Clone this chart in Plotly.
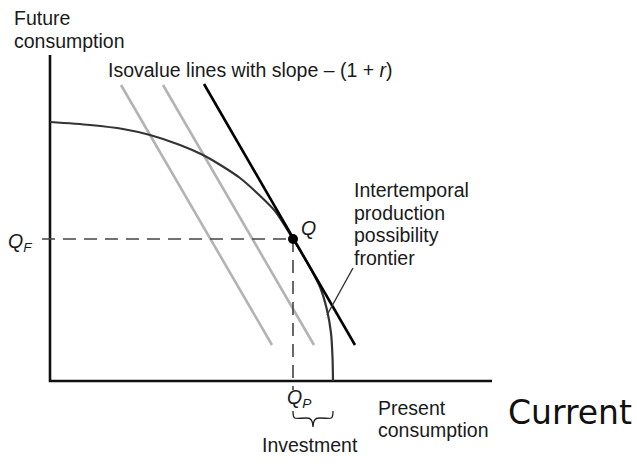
import plotly.graph_objects as go

# ---- data (chart units, origin at the axes corner) ----
frontier_x = [0, 40, 73, 100, 130, 153, 172, 190, 206, 225, 243, 258, 270, 277, 281, 282.5, 283]
frontier_y = [259, 256, 252, 246, 236, 226, 215, 203, 189, 170, 142, 117, 94, 71, 48, 24, 0]

q_point = (243, 142)          # optimum Q = (Q_P, Q_F)
tangent_x = [154, 305]        # black isovalue line through Q
tangent_y = [297, 36]
gray_lines_x = [[71, 222], [113, 264]]
gray_lines_y = [[296, 36], [296, 36]]
pointer_x = [303, 277]
pointer_y = [113, 66]

x_axis_end = 442
y_axis_end = 326

frontier_label = ["Intertemporal", "production", "possibility", "frontier"]
y_title = ["Future", "consumption"]
x_title = ["Present", "consumption"]

FONT = "Liberation Sans, Arial, sans-serif"
FS = 19.5
TXT = "#1a1a1a"

fig = go.Figure()

# axes
fig.add_trace(go.Scatter(x=[0, 0, x_axis_end], y=[y_axis_end, 0, 0], mode="lines",
                         line=dict(color="#111", width=2.6), hoverinfo="skip"))

# gray isovalue lines
for gx, gy in zip(gray_lines_x, gray_lines_y):
    fig.add_trace(go.Scatter(x=gx, y=gy, mode="lines",
                             line=dict(color="#b3b3b3", width=2.6), hoverinfo="skip"))

# frontier
fig.add_trace(go.Scatter(x=frontier_x, y=frontier_y, mode="lines",
                         line=dict(color="#333", width=2.2, shape="spline", smoothing=0.8),
                         hoverinfo="skip"))

# tangent isovalue line
fig.add_trace(go.Scatter(x=tangent_x, y=tangent_y, mode="lines",
                         line=dict(color="#000", width=2.6), hoverinfo="skip"))

# dashed guides
qx, qy = q_point
fig.add_trace(go.Scatter(x=[-8, qx], y=[qy, qy], mode="lines",
                         line=dict(color="#444", width=1.6, dash="13px,8px"), hoverinfo="skip"))
fig.add_trace(go.Scatter(x=[qx, qx], y=[qy, -9], mode="lines",
                         line=dict(color="#444", width=1.6, dash="13px,8px"), hoverinfo="skip"))

# pointer
fig.add_trace(go.Scatter(x=pointer_x, y=pointer_y, mode="lines",
                         line=dict(color="#333", width=1.4), hoverinfo="skip"))

# Q point
fig.add_trace(go.Scatter(x=[qx], y=[qy], mode="markers",
                         marker=dict(color="#000", size=10), hoverinfo="skip"))

# brace under Q_P .. frontier end
x0, x1 = qx, frontier_x[-1]
xm = (x0 + x1) / 2
yt, yb = -30, -45
brace = (f"M {x0} {yt} C {x0} {yb+5}, {x0+2} {yb+8}, {xm-6} {yb+8} "
         f"C {xm-2} {yb+8}, {xm} {yb+4}, {xm} {yb-1} "
         f"C {xm} {yb+4}, {xm+2} {yb+8}, {xm+6} {yb+8} "
         f"C {x1-2} {yb+8}, {x1} {yb+5}, {x1} {yt}")
fig.add_shape(type="path", path=brace, xref="x", yref="y",
              line=dict(color="#222", width=1.3))

ann = []
def t(x, y, s, xa="left", size=FS, family=FONT, color=TXT):
    ann.append(dict(x=x, y=y, xref="x", yref="y", text=s, showarrow=False,
                    xanchor=xa, yanchor="middle",
                    font=dict(family=family, size=size, color=color)))

t(-38, 363, y_title[0])
t(-38, 340, y_title[1])
t(56, 311, "Isovalue lines with slope – (1 + <i>r</i>)")
t(249, 153, "<i>Q</i>")
t(-16, 139, "<i>Q</i><sub><i>F</i></sub>", xa="right")
for i, s in enumerate(frontier_label):
    t(302, 191 - 22.5 * i, s)
t(249, -17, "<i>Q</i><sub><i>P</i></sub>", xa="center")
t(260, -64, "Investment", xa="center")
t(326, -27, x_title[0])
t(326, -49, x_title[1])
t(456, -31, "Current", size=33, family="DejaVu Sans, sans-serif", color="#111")

fig.update_layout(
    width=637, height=466, margin=dict(l=0, r=0, t=0, b=0),
    paper_bgcolor="white", plot_bgcolor="white", showlegend=False,
    xaxis=dict(range=[-50, 587], visible=False, fixedrange=True),
    yaxis=dict(range=[-85, 381], visible=False, fixedrange=True),
    annotations=ann,
)

fig.write_html("out.html", config={"displayModeBar": False},
               post_script="document.body.style.margin='0';")
